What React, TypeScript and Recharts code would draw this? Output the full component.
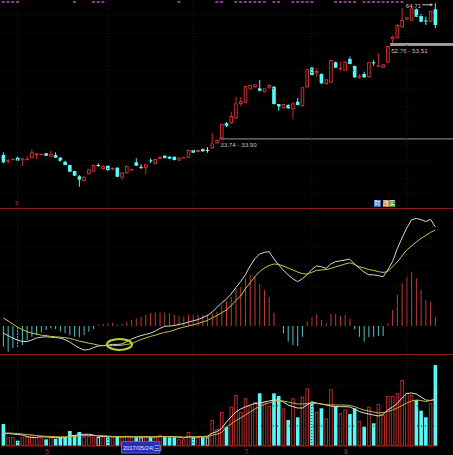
import { ComposedChart, Bar, Line, Scatter, XAxis, YAxis, ReferenceLine, ReferenceArea, ReferenceDot } from 'recharts'

const FONT = "'Liberation Sans', Arial, 'Noto Sans CJK SC', sans-serif"
const W = 453
const MARGIN = { top: 0, right: 15.4, bottom: 0, left: 0.9 }

const RED = '#cc3232'
const CYAN = '#54fafa'
const DOJI = '#d8d8d8'
const VOL_RED = '#b82a2a'
const MACD_RED = '#c03a3a'
const MACD_CYAN = '#4cc4c4'
const BORDER = '#8e1a1a'
const GRID = '#3e0c0c'
const LABEL = '#c4c4c4'

// trading days 2017/04/18 .. 2017/08/28
const dates = [
  '2017/04/18', '2017/04/19', '2017/04/20', '2017/04/21', '2017/04/24', '2017/04/25', '2017/04/26', '2017/04/27', '2017/04/28',
  '2017/05/02', '2017/05/03', '2017/05/04', '2017/05/05', '2017/05/08', '2017/05/09', '2017/05/10', '2017/05/11', '2017/05/12',
  '2017/05/15', '2017/05/16', '2017/05/17', '2017/05/18', '2017/05/19', '2017/05/22', '2017/05/23', '2017/05/24', '2017/05/25',
  '2017/05/26', '2017/05/31',
  '2017/06/01', '2017/06/02', '2017/06/05', '2017/06/06', '2017/06/07', '2017/06/08', '2017/06/09', '2017/06/12', '2017/06/13',
  '2017/06/14', '2017/06/15', '2017/06/16', '2017/06/19', '2017/06/20', '2017/06/21', '2017/06/22', '2017/06/23', '2017/06/26',
  '2017/06/27', '2017/06/28', '2017/06/29', '2017/06/30',
  '2017/07/03', '2017/07/04', '2017/07/05', '2017/07/06', '2017/07/07', '2017/07/10', '2017/07/11', '2017/07/12', '2017/07/13',
  '2017/07/14', '2017/07/17', '2017/07/18', '2017/07/19', '2017/07/20', '2017/07/21', '2017/07/24', '2017/07/25', '2017/07/26',
  '2017/07/27', '2017/07/28', '2017/07/31',
  '2017/08/01', '2017/08/02', '2017/08/03', '2017/08/04', '2017/08/07', '2017/08/08', '2017/08/09', '2017/08/10', '2017/08/11',
  '2017/08/14', '2017/08/15', '2017/08/16', '2017/08/17', '2017/08/18', '2017/08/21', '2017/08/22', '2017/08/23', '2017/08/24',
  '2017/08/25', '2017/08/28',
]

const open = [
  31.31, 30.33, 30.65, 30.91, 30.62, 30.68, 30.82, 31.31, 31.40, 31.57,
  31.06, 31.31, 30.91, 30.33, 29.85, 29.00, 28.28, 27.65, 28.55, 28.91,
  29.85, 29.28, 29.75, 29.36, 29.47, 28.09, 28.68, 29.20, 30.24, 29.59,
  29.38, 30.57, 29.99, 30.72, 31.20, 31.06, 31.05, 30.47, 30.95, 30.91,
  32.07, 31.77, 32.22, 32.07, 32.33, 33.11, 33.90, 36.45, 36.44, 37.30,
  39.97, 40.22, 42.88, 43.28, 43.10, 42.27, 43.08, 43.41, 39.96, 39.15,
  39.77, 38.96, 40.41, 39.58, 43.29, 47.54, 46.29, 46.13, 43.97, 44.25,
  48.79, 47.35, 46.86, 49.57, 47.93, 45.60, 46.13, 45.41, 48.79, 47.95,
  47.54, 48.70, 54.46, 54.72, 57.69, 59.87, 59.53, 62.87, 60.88, 59.60,
  59.25, 62.87,
]
const high = [
  31.72, 30.72, 30.80, 31.00, 30.91, 31.10, 32.18, 31.60, 31.55, 31.62,
  31.92, 31.72, 31.00, 30.40, 29.90, 29.05, 28.45, 28.26, 29.30, 29.90,
  30.10, 29.85, 29.80, 29.50, 29.52, 28.86, 29.75, 29.35, 30.82, 29.95,
  30.00, 30.80, 30.75, 31.10, 31.30, 31.10, 31.10, 30.95, 31.07, 32.12,
  32.12, 32.12, 32.30, 32.50, 34.73, 33.74, 36.40, 36.67, 38.52, 41.39,
  41.33, 43.60, 43.85, 43.97, 44.83, 43.15, 43.97, 43.50, 40.00, 40.05,
  39.90, 40.35, 41.13, 43.40, 47.30, 47.77, 47.40, 46.30, 45.10, 49.40,
  49.00, 48.93, 49.05, 50.13, 48.05, 46.13, 46.64, 48.90, 49.33, 50.93,
  48.45, 52.76, 55.46, 58.60, 63.26, 60.60, 63.66, 63.10, 61.46, 60.68,
  62.50, 64.71,
]
const low = [
  30.09, 30.09, 30.58, 30.40, 29.75, 30.62, 30.80, 30.67, 31.35, 31.15,
  31.00, 30.88, 30.35, 29.80, 28.85, 28.30, 26.90, 27.60, 28.50, 28.85,
  29.60, 29.20, 29.00, 29.10, 28.15, 27.78, 28.64, 29.15, 29.70, 29.28,
  28.55, 30.13, 29.95, 30.70, 30.80, 30.70, 30.50, 30.40, 30.90, 30.88,
  31.60, 31.72, 31.80, 31.66, 32.25, 33.00, 33.90, 35.80, 36.30, 37.20,
  39.58, 40.10, 42.80, 43.10, 42.43, 42.20, 43.00, 39.85, 38.70, 39.10,
  39.05, 37.15, 39.70, 39.50, 43.20, 45.76, 45.55, 44.00, 43.85, 44.15,
  47.45, 46.86, 46.75, 48.30, 45.30, 45.05, 45.30, 45.30, 48.00, 47.85,
  47.45, 48.60, 53.51, 54.60, 57.55, 59.75, 59.40, 60.55, 59.10, 58.32,
  59.10, 57.40,
]
const close = [
  30.24, 30.57, 30.75, 30.47, 30.82, 30.75, 31.72, 31.57, 31.48, 31.20,
  31.50, 30.91, 30.42, 29.85, 28.91, 28.36, 27.82, 28.22, 29.24, 29.85,
  29.85, 29.70, 29.14, 29.43, 28.22, 28.82, 29.70, 29.27, 29.75, 29.59,
  29.95, 30.38, 30.72, 31.06, 30.87, 30.76, 30.57, 30.91, 31.02, 32.07,
  31.66, 32.07, 31.87, 32.07, 33.11, 33.64, 36.32, 35.97, 37.73, 40.10,
  40.55, 43.55, 43.76, 43.90, 42.59, 43.08, 43.76, 39.96, 39.45, 39.96,
  39.15, 40.10, 39.77, 43.29, 47.18, 45.91, 46.80, 44.12, 44.98, 49.33,
  47.54, 47.48, 48.93, 48.40, 45.41, 45.70, 45.41, 48.79, 48.60, 48.05,
  48.32, 52.76, 55.15, 58.32, 59.73, 60.50, 63.17, 60.68, 59.25, 59.45,
  62.36, 58.32,
]

const volume = [
  22, 8.7, 9, 5.3, 8.7, 9.3, 11.3, 8.7, 8.7, 6.7,
  8.7, 7.3, 8.7, 8.7, 15, 11, 14, 9.7, 9.7, 10.7,
  9, 9.7, 8.7, 8.7, 9.7, 8.7, 10.3, 8.7, 8.7, 8.7,
  9.7, 8.7, 8.7, 11.3, 9, 8.7, 8.7, 6.7, 6.7, 14,
  8.7, 8.7, 8.7, 8.7, 26, 17, 34, 19.3, 39.3, 51,
  34, 47.7, 40, 44, 52.7, 44, 40, 52.7, 50, 37.7,
  26, 47.7, 28.7, 49.3, 57.7, 44.3, 34.3, 37.7, 27.7, 56.7,
  39.3, 32.7, 36.7, 32, 37.7, 25.3, 19.3, 39.3, 22.7, 42,
  31, 50, 50, 52.7, 66, 52.7, 51, 46, 35.3, 28.7,
  42.7, 81,
]
const volMa5 = [
  12, 12.5, 12, 11.5, 11, 9.5, 8.5, 8.7, 9.3, 9,
  8.8, 8.5, 8.2, 8.2, 10, 10.5, 11.5, 11.7, 11.8, 11,
  9.8, 9.6, 9.5, 9.2, 9.2, 9.1, 9.2, 9.2, 9.2, 9.1,
  9.1, 9.1, 9.1, 9.5, 9.5, 9.5, 9.3, 8.8, 8.1, 9,
  9, 9, 9.5, 9.8, 12.8, 14.4, 17.5, 24, 29, 34,
  37, 39, 41, 42.5, 43, 44, 45, 46, 46, 44,
  41, 39.5, 38, 38, 41, 44, 43, 42, 41, 40,
  39.5, 39.3, 39.3, 39, 37, 34.5, 33, 32, 31, 30,
  31.5, 36, 39, 42.5, 48, 52.5, 53, 52, 49, 46,
  45.5, 46.5,
]
const volMa10 = [
  13, 13, 12.8, 12.5, 12, 11.5, 11, 10.5, 10, 9.7,
  9.5, 9.3, 9.2, 9.2, 9.5, 9.8, 10.2, 10.3, 10.4, 10.5,
  10.5, 10.2, 10, 9.6, 9.4, 9.3, 9.3, 9.2, 9.2, 9.2,
  9.2, 9.2, 9.2, 9.3, 9.3, 9.3, 9.2, 9.1, 8.9, 9.2,
  9.2, 9.2, 9.1, 9.2, 10.8, 11.8, 13.5, 19, 22, 25.5,
  28, 31, 34, 37, 39.5, 41.5, 43, 44.5, 45.5, 45,
  44, 43, 42, 42, 42.5, 43, 42.5, 42, 41.5, 41,
  41, 41, 41, 40.5, 39.5, 37.5, 36, 35, 34, 33,
  33.5, 34.5, 36, 38, 40.5, 43, 45, 46, 45.5, 44.5,
  45.5, 47.5,
]

const dif = [
  -0.18, -0.24, -0.30, -0.35, -0.39, -0.39, -0.35, -0.30, -0.28, -0.27,
  -0.28, -0.29, -0.30, -0.34, -0.40, -0.48, -0.55, -0.60, -0.59, -0.54,
  -0.50, -0.49, -0.48, -0.46, -0.46, -0.45, -0.39, -0.33, -0.28, -0.24,
  -0.21, -0.18, -0.13, -0.06, -0.01, 0.00, 0.01, 0.04, 0.06, 0.10,
  0.13, 0.16, 0.21, 0.26, 0.35, 0.46, 0.58, 0.67, 0.80, 0.96,
  1.11, 1.28, 1.50, 1.68, 1.80, 1.84, 1.86, 1.68, 1.53, 1.40,
  1.28, 1.18, 1.11, 1.18, 1.28, 1.41, 1.50, 1.48, 1.44, 1.55,
  1.61, 1.63, 1.65, 1.67, 1.55, 1.45, 1.35, 1.28, 1.28, 1.26,
  1.23, 1.40, 1.61, 1.93, 2.20, 2.45, 2.65, 2.69, 2.66, 2.61,
  2.67, 2.48,
]
const dea = [
  0.20, 0.13, 0.05, -0.03, -0.09, -0.14, -0.18, -0.20, -0.23, -0.24,
  -0.26, -0.27, -0.28, -0.29, -0.31, -0.34, -0.38, -0.40, -0.43, -0.45,
  -0.48, -0.49, -0.49, -0.49, -0.49, -0.48, -0.46, -0.44, -0.39, -0.34,
  -0.30, -0.26, -0.23, -0.19, -0.16, -0.14, -0.10, -0.06, -0.03, 0.00,
  0.03, 0.06, 0.10, 0.14, 0.20, 0.26, 0.33, 0.40, 0.51, 0.64,
  0.75, 0.93, 1.08, 1.23, 1.36, 1.45, 1.51, 1.55, 1.54, 1.50,
  1.45, 1.40, 1.35, 1.31, 1.30, 1.34, 1.39, 1.40, 1.41, 1.44,
  1.48, 1.51, 1.55, 1.58, 1.54, 1.48, 1.45, 1.41, 1.39, 1.36,
  1.34, 1.36, 1.48, 1.60, 1.75, 1.90, 2.00, 2.10, 2.19, 2.26,
  2.34, 2.40,
]
const macd = [
  -0.52, -0.64, -0.55, -0.52, -0.48, -0.35, -0.27, -0.23, -0.16, -0.10,
  -0.06, -0.08, -0.14, -0.18, -0.23, -0.27, -0.28, -0.23, -0.14, -0.08,
  0.03, 0.05, 0.08, 0.08, 0.03, 0.05, 0.11, 0.15, 0.19, 0.23,
  0.28, 0.32, 0.34, 0.34, 0.34, 0.32, 0.28, 0.25, 0.23, 0.28,
  0.28, 0.28, 0.28, 0.30, 0.32, 0.36, 0.53, 0.61, 0.73, 0.94,
  0.98, 1.19, 1.28, 1.23, 1.05, 0.90, 0.73, 0.33, 0.02, -0.18,
  -0.39, -0.48, -0.50, -0.27, 0.11, 0.23, 0.30, 0.15, 0.07, 0.30,
  0.30, 0.25, 0.28, 0.19, -0.08, -0.27, -0.39, -0.28, -0.27, -0.25,
  -0.25, 0.07, 0.40, 0.78, 1.07, 1.22, 1.36, 1.19, 0.90, 0.65,
  0.61, 0.22,
]

// days carrying an info marker along the top edge
const noticeDays = [0, 1, 2, 3, 15, 19, 20, 21, 37, 45, 46, 49, 50, 51, 52, 53, 54, 55, 57, 58, 61, 62, 63, 64, 65,
  70, 71, 72, 73, 74, 76, 77, 78, 79, 80, 81, 82, 83, 84]
const gridDays = [3, 22, 40, 65, 85]
const cursorDay = 25
const crossDay = 24
// price gaps: index of the day that opened the gap, previous high, gap-day low
const gaps = [
  { day: 46, low: 33.74, high: 33.90 },
  { day: 82, low: 52.76, high: 53.51 },
]

const priceDomain: [number, number] = [24.3, 65.73]
const priceGrid = [26, 28, 30.5, 33, 36, 39.5, 43, 47, 51.5, 56, 61]
const macdDomain: [number, number] = [-0.7, 2.925]
const macdGrid = [0.5, 1, 1.5, 2, 2.5]
const volDomain: [number, number] = [0, 91]
const volGrid = [20, 40, 60, 80]

const WEEK = ['日', '一', '二', '三', '四', '五', '六']

const rows = dates.map((date, i) => ({
  date,
  open: open[i], high: high[i], low: low[i], close: close[i],
  range: [low[i], high[i]],
  vol: volume[i], ma5: volMa5[i], ma10: volMa10[i],
  dif: dif[i], dea: dea[i], macd: macd[i],
  notice: noticeDays.includes(i) ? priceDomain[1] : null,
}))

// first day of each month; the one sitting under the cursor date box is left out
const monthStarts = dates.filter((d, i) =>
  i > 0 && d.slice(5, 7) !== dates[i - 1].slice(5, 7) && !(i >= cursorDay && i <= cursorDay + 8))
const axisTicks = [...monthStarts, dates[cursorDay]]

type R = (typeof rows)[number]
const tone = (r: R) => (r.close > r.open ? RED : r.close < r.open ? CYAN : DOJI)

function Candle(props: any) {
  const { x, y, width, height, payload } = props
  if (!payload || !Number.isFinite(y)) return null
  const top = Math.min(y, y + height), bot = Math.max(y, y + height)
  const lh = Math.log(payload.high), ll = Math.log(payload.low)
  const at = (p: number) => (lh === ll ? top : top + ((lh - Math.log(p)) / (lh - ll)) * (bot - top))
  const cx = x + width / 2
  const bw = width * 0.72
  const yo = at(payload.open), yc = at(payload.close)
  const b0 = Math.min(yo, yc)
  const b1 = Math.max(yo, yc, b0 + 1)
  const c = tone(payload)
  if (payload.close > payload.open) {
    return (
      <g>
        <line x1={cx} x2={cx} y1={top} y2={b0} stroke={c} />
        <line x1={cx} x2={cx} y1={b1} y2={bot} stroke={c} />
        <rect x={cx - bw / 2 + 0.5} y={b0 + 0.5} width={bw - 1} height={Math.max(b1 - b0 - 1, 0.4)} fill="#000" stroke={c} />
      </g>
    )
  }
  return (
    <g>
      <line x1={cx} x2={cx} y1={top} y2={bot} stroke={c} />
      <rect x={cx - bw / 2} y={b0} width={bw} height={b1 - b0} fill={c} />
    </g>
  )
}

function VolBar(props: any) {
  const { x, y, width, height, payload } = props
  if (!payload || !Number.isFinite(y)) return null
  const top = Math.min(y, y + height), h = Math.abs(height)
  const bw = width * 0.72, cx = x + width / 2
  if (payload.close >= payload.open) {
    const c = payload.close === payload.open ? DOJI : VOL_RED
    return <rect x={cx - bw / 2 + 0.5} y={top + 0.5} width={bw - 1} height={Math.max(h - 1, 0)} fill="none" stroke={c} />
  }
  return <rect x={cx - bw / 2} y={top} width={bw} height={h} fill={CYAN} />
}

function MacdBar(props: any) {
  const { x, y, width, height, payload } = props
  if (!payload || !Number.isFinite(y)) return null
  const top = Math.min(y, y + height), h = Math.abs(height)
  return <rect x={x + width / 2 - 0.5} y={top} width={1} height={h} fill={payload.macd >= 0 ? MACD_RED : MACD_CYAN} />
}

function Notice(props: any) {
  const { cx, cy } = props
  if (!Number.isFinite(cx) || !Number.isFinite(cy)) return null
  return <rect x={cx - 1.5} y={cy + 1} width={3} height={2} fill="#8e3a8e" />
}

const gapShape = (text: string) => (p: any) => {
  const top = Math.min(p.y, p.y + p.height)
  const h = Math.max(Math.abs(p.height), 1)
  return (
    <g>
      <rect x={p.x} y={top} width={W - p.x} height={h} fill="#9c9c9c" />
      <text x={p.x + 1} y={top + h + 7.5} fill={LABEL} fontSize={6.2} fontFamily={FONT}>{text}</text>
    </g>
  )
}

const peakShape = (text: string) => (p: any) => {
  const { cx, cy } = p
  return (
    <g>
      <text x={cx - 14} y={cy + 4.5} textAnchor="end" fill={LABEL} fontSize={6.2} fontFamily={FONT}>{text}</text>
      <line x1={cx - 13} y1={cy + 1.5} x2={cx - 4} y2={cy + 1.5} stroke={LABEL} />
      <path d={`M${cx - 2},${cy + 1.5} l-3,-1.6 v3.2 z`} fill={LABEL} />
    </g>
  )
}

function CrossMark(props: any) {
  const { cx, cy } = props
  return <ellipse cx={cx + 2.3} cy={cy} rx={12.5} ry={5.5} fill="none" stroke="#b4d630" strokeWidth={2} />
}

function AxisTick(props: any) {
  const { x, y, payload } = props
  const d: string = payload.value
  if (d === dates[cursorDay]) {
    const [yy, mm, dd] = d.split('/').map(Number)
    const wd = WEEK[new Date(yy, mm - 1, dd).getDay()]
    return (
      <g>
        <rect x={x - 0.5} y={y - 4.3} width={38.5} height={11.4} fill="#2a2ab4" stroke="#6a6af0" strokeWidth={0.8} />
        <text x={x + 1} y={y + 4.3} fill="#e8e8ff" fontSize={5.8} fontFamily={FONT}>{`${d}(${wd})`}</text>
      </g>
    )
  }
  return (
    <text x={x + 1} y={y + 7.5} textAnchor="middle" fill="#b03030" fontSize={7} fontFamily={FONT}>
      {String(Number(d.slice(5, 7)))}
    </text>
  )
}

const vGrid = gridDays.map(i => (
  <ReferenceLine key={`v${i}`} x={dates[i]} stroke={GRID} strokeDasharray="1 2" />
))

const peakIdx = high.indexOf(Math.max(...high))

export default function App() {
  return (
    <div style={{ position: 'fixed', left: 0, top: 0, width: W, height: 455, background: '#000', overflow: 'hidden', fontFamily: FONT }}>
      {/* price */}
      <div style={{ position: 'absolute', left: 0, top: 0 }}>
        <ComposedChart width={W} height={208} data={rows} margin={MARGIN} barCategoryGap={0} barGap={0}>
          <XAxis dataKey="date" hide />
          <YAxis scale="log" domain={priceDomain} hide allowDataOverflow />
          {priceGrid.map(v => <ReferenceLine key={v} y={v} stroke={GRID} strokeDasharray="1 3" />)}
          {vGrid}
          <Bar dataKey="range" shape={Candle} isAnimationActive={false} />
          <Scatter dataKey="notice" shape={Notice} isAnimationActive={false} />
          {gaps.map(g => (
            <ReferenceArea
              key={g.day}
              x1={dates[g.day]}
              x2={dates[dates.length - 1]}
              y1={g.low}
              y2={g.high}
              shape={gapShape(`${g.low.toFixed(2)} - ${g.high.toFixed(2)}`)}
            />
          ))}
          <ReferenceDot x={dates[peakIdx]} y={high[peakIdx]} shape={peakShape(high[peakIdx].toFixed(2))} />
        </ComposedChart>
      </div>
      <div style={{ position: 'absolute', left: 0, top: 208, width: W, height: 1, background: BORDER }} />
      <div style={{ position: 'absolute', left: 15, top: 200, color: '#c03030', fontSize: 6, lineHeight: '7px' }}>5</div>
      <div style={{ position: 'absolute', left: 374, top: 199.5, width: 6.5, height: 7, background: '#3a66b2', color: '#fff', fontSize: 6, lineHeight: '7px', textAlign: 'center' }}>财</div>
      <div style={{ position: 'absolute', left: 383, top: 199.5, width: 12.5, height: 7, display: 'flex', fontSize: 6, lineHeight: '7px', color: '#fff' }}>
        <span style={{ width: 6.2, background: '#c8783a', textAlign: 'center' }}>改</span>
        <span style={{ width: 6.3, background: '#3a9a3a', textAlign: 'center' }}>实</span>
      </div>

      {/* MACD */}
      <div style={{ position: 'absolute', left: 0, top: 209 }}>
        <ComposedChart width={W} height={145} data={rows} margin={MARGIN} barCategoryGap={0} barGap={0}>
          <XAxis dataKey="date" hide />
          <YAxis domain={macdDomain} hide allowDataOverflow />
          {macdGrid.map(v => <ReferenceLine key={v} y={v} stroke={GRID} strokeDasharray="1 3" />)}
          {vGrid}
          <Bar dataKey="macd" shape={MacdBar} isAnimationActive={false} />
          <Line dataKey="dif" stroke="#d8d8d8" strokeWidth={1} dot={false} isAnimationActive={false} />
          <Line dataKey="dea" stroke="#c8c646" strokeWidth={1} dot={false} isAnimationActive={false} />
          <ReferenceDot x={dates[crossDay]} y={dif[crossDay]} shape={CrossMark} />
        </ComposedChart>
      </div>
      <div style={{ position: 'absolute', left: 0, top: 354, width: W, height: 1, background: BORDER }} />

      {/* volume */}
      <div style={{ position: 'absolute', left: 0, top: 355 }}>
        <ComposedChart width={W} height={100} data={rows} margin={MARGIN} barCategoryGap={0} barGap={0}>
          <XAxis
            dataKey="date"
            ticks={axisTicks}
            interval={0}
            tick={AxisTick}
            tickLine={false}
            tickSize={0}
            tickMargin={0}
            axisLine={{ stroke: BORDER }}
            height={9}
          />
          <YAxis domain={volDomain} hide allowDataOverflow />
          {volGrid.map(v => <ReferenceLine key={v} y={v} stroke={GRID} strokeDasharray="1 3" />)}
          {vGrid}
          <Bar dataKey="vol" shape={VolBar} isAnimationActive={false} />
          <Line dataKey="ma5" stroke="#e0e0e0" strokeWidth={1} dot={false} isAnimationActive={false} />
          <Line dataKey="ma10" stroke="#c8b43c" strokeWidth={1} dot={false} isAnimationActive={false} />
        </ComposedChart>
      </div>
    </div>
  )
}
